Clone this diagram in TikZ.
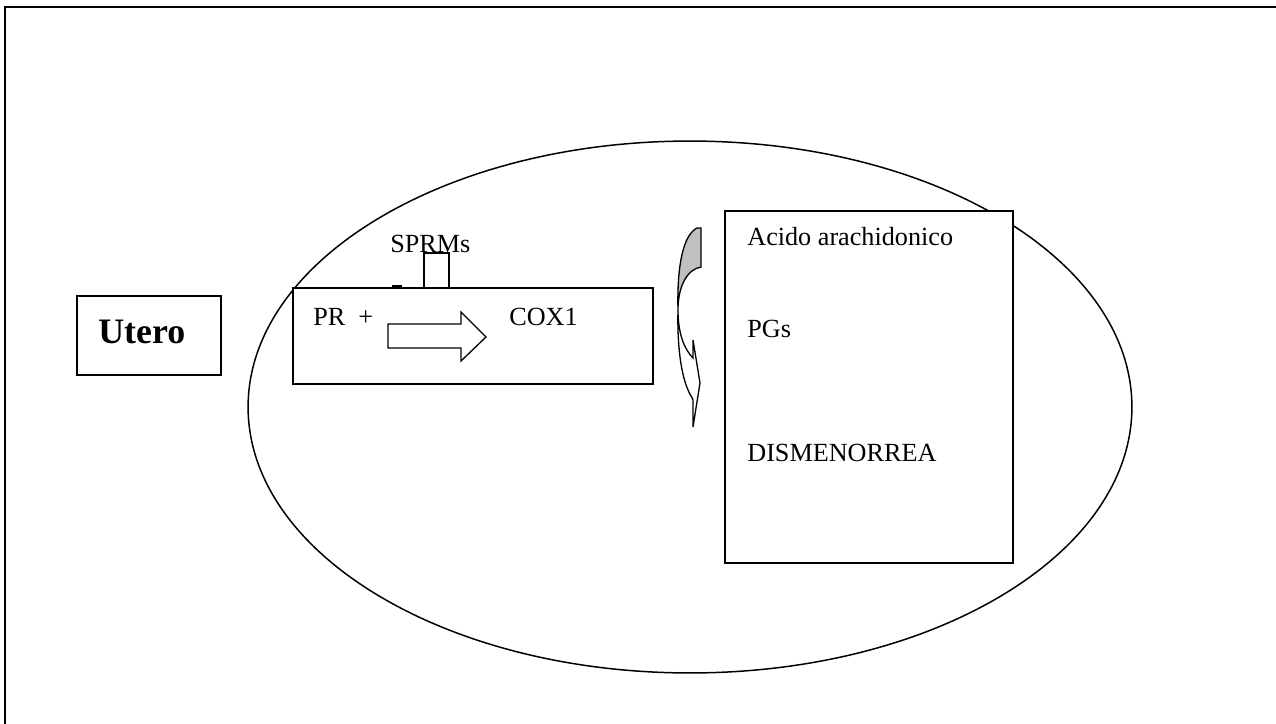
\documentclass[tikz,border=0pt]{standalone}
\usepackage{fontspec}
\setmainfont{Liberation Serif}
\usepackage{tikz}
\definecolor{foldgray}{HTML}{C0C0C0}
\definecolor{inkblack}{HTML}{000000}
\tikzset{
  boxline/.style={draw=inkblack, line width=0.75pt, fill=white},
  bodytext/.style={anchor=base west, inner sep=0pt, font=\fontsize{14.9}{18}\selectfont},
}

\begin{document}
\begin{tikzpicture}[x=0.02cm, y=-0.02cm]
  \useasboundingbox (0,0) rectangle (1276,724);
  \clip (0,0) rectangle (1276,724);

  % Page frame (runs off the right and bottom)
  \draw[inkblack, line width=1.1pt] (5,760) -- (5,7) -- (1300,7);

  % Uterus outline
  \draw[inkblack, line width=0.85pt] (690,407) ellipse [x radius=8.84cm, y radius=5.32cm];

  % Label box on the left
  \draw[boxline] (77,296) rectangle (221,375);
  \node[bodytext, font=\fontsize{20.4}{24}\selectfont\bfseries] (utero) at (98,343) {Utero};

  % Receptor box with SPRMs on top
  \draw[boxline] (293,288) rectangle (653,384);
  \node[bodytext] (sprms) at (390,252) {SPRMs};
  \draw[boxline] (424,253) rectangle (449,288);
  \draw[inkblack, line width=0.5pt] (413,287) -- (463,287);
  \draw[inkblack, line width=1.6pt] (392,286.8) -- (402,286.8);
  \node[bodytext] (pr) at (313,325) {PR\ \ +};
  \node[bodytext] (cox) at (509,325) {COX1};

  % Block arrow PR -> COX1
  \draw[inkblack, line width=0.75pt, fill=white]
    (388,324) -- (461,324) -- (461,312) -- (486,337) -- (461,361) -- (461,348) -- (388,348) -- cycle;

  % Curved arrow: folded back (gray) and band with head
  \draw[inkblack, line width=0.75pt, fill=foldgray]
    (701,228) -- (701,267) .. controls (688,269) and (678,285) .. (678,310)
    .. controls (677,270) and (682,240) .. (694,230) .. controls (696,228) .. (701,228) -- cycle;
  \draw[inkblack, line width=0.75pt, fill=white]
    (678,310) .. controls (677,350) and (682,382) .. (691.7,397) -- (693,400) -- (693,427)
    -- (700,383) -- (693,340) -- (693,358) .. controls (685,350) and (678,335) .. (678,310) -- cycle;

  % Cascade box on the right
  \draw[boxline] (725,211) rectangle (1013,563);
  \node[bodytext] (acido) at (747,245) {Acido arachidonico};
  \node[bodytext] (pgs) at (747,337) {PGs};
  \node[bodytext] (dism) at (747,461) {DISMENORREA};
\end{tikzpicture}
\end{document}
